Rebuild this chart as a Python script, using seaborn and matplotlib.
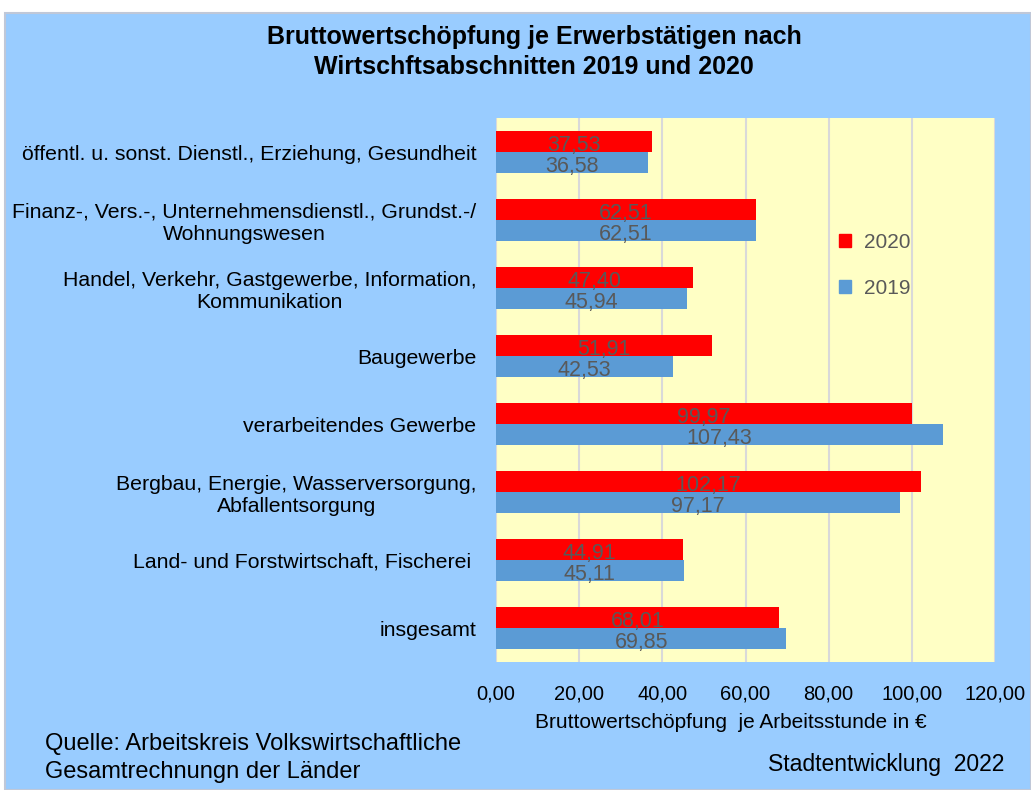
import matplotlib
matplotlib.use("Agg")
import matplotlib.pyplot as plt
from matplotlib.patches import Rectangle
from matplotlib.ticker import FuncFormatter
import seaborn as sns
import pandas as pd

categories = [
    "öffentl. u. sonst. Dienstl., Erziehung, Gesundheit",
    "Finanz-, Vers.-, Unternehmensdienstl., Grundst.-/\nWohnungswesen",
    "Handel, Verkehr, Gastgewerbe, Information,\nKommunikation",
    "Baugewerbe",
    "verarbeitendes Gewerbe",
    "Bergbau, Energie, Wasserversorgung,\nAbfallentsorgung",
    "Land- und Forstwirtschaft, Fischerei ",
    "insgesamt",
]
values_2020 = [37.53, 62.51, 47.40, 51.91, 99.97, 102.17, 44.91, 68.01]
values_2019 = [36.58, 62.51, 45.94, 42.53, 107.43, 97.17, 45.11, 69.85]
years = ["2020", "2019"]
xticks = [0, 20, 40, 60, 80, 100, 120]

df = pd.DataFrame({
    "Kategorie": categories * 2,
    "Wert": values_2020 + values_2019,
    "Jahr": [years[0]] * len(categories) + [years[1]] * len(categories),
})

sns.set_theme(style="white")
plt.rcParams["font.family"] = ["Liberation Sans", "DejaVu Sans"]
plt.rcParams["text.color"] = "black"

fig = plt.figure(figsize=(10.31, 7.9), dpi=100)
fig.patch.set_facecolor("white")
fig.patches.append(Rectangle((5 / 1031, 0), 1 - 5 / 1031, 1 - 13 / 790,
                             transform=fig.transFigure, facecolor="#99CCFF",
                             edgecolor="#C0C8D8", linewidth=1.5, zorder=-10))

ax = fig.add_axes([496 / 1031, 1 - 662 / 790, (995 - 496) / 1031, (662 - 118) / 790])
ax.set_facecolor("#FFFFC5")

palette = {"2020": "#FF0000", "2019": "#5B9BD5"}
sns.barplot(data=df, y="Kategorie", x="Wert", hue="Jahr", hue_order=years,
            order=categories, palette=palette, width=0.63, ax=ax,
            saturation=1, legend=False, zorder=3, linewidth=0)

for cont in ax.containers:
    labs = [f"{v:.2f}".replace(".", ",") for v in cont.datavalues]
    anns = ax.bar_label(cont, labels=labs, label_type="center", color="#595959",
                        fontsize=15.5, padding=0)
    for a in anns:
        a.xyann = (0, -3)

ax.set_xlim(0, 120)
ax.set_xticks(xticks)
ax.xaxis.set_major_formatter(FuncFormatter(lambda v, p: f"{v:.2f}".replace(".", ",")))
ax.grid(axis="x", color="#D9D9D9", linewidth=1.5, zorder=0)
ax.set_axisbelow(True)
for s in ax.spines.values():
    s.set_visible(False)
ax.tick_params(axis="x", length=0, pad=16, labelsize=14.5, colors="black")
ax.tick_params(axis="y", length=0, pad=18, labelsize=15.3, colors="black")
for t in ax.get_yticklabels():
    t.set_multialignment("center")
ax.tick_params(axis="y", pad=14)
ax.set_xlabel("")
ax.set_ylabel("")

handles = [Rectangle((0, 0), 1, 1, color=palette[y]) for y in years]
leg = ax.legend(handles, years, loc="upper left", bbox_to_anchor=(820 / 1031, 1 - 214 / 790),
                bbox_transform=fig.transFigure, frameon=False, fontsize=15,
                handlelength=0.6, handleheight=0.6, handletextpad=0.6, labelspacing=1.3)
for t in leg.get_texts():
    t.set_color("#595959")

fig.text(534 / 1031, 1 - 52 / 790,
         "Bruttowertschöpfung je Erwerbstätigen nach\nWirtschftsabschnitten 2019 und 2020",
         ha="center", va="center", fontsize=18, fontweight="bold", linespacing=1.3)
fig.text(731 / 1031, 1 - 722 / 790, "Bruttowertschöpfung  je Arbeitsstunde in €",
         ha="center", va="center", fontsize=15)
fig.text(45 / 1031, 1 - 758 / 790, "Quelle: Arbeitskreis Volkswirtschaftliche\nGesamtrechnungn der Länder",
         ha="left", va="center", fontsize=17, linespacing=1.3)
fig.text(1004 / 1031, 1 - 765 / 790, "Stadtentwicklung  2022",
         ha="right", va="center", fontsize=16.5)

fig.savefig("out.png", dpi=100)
